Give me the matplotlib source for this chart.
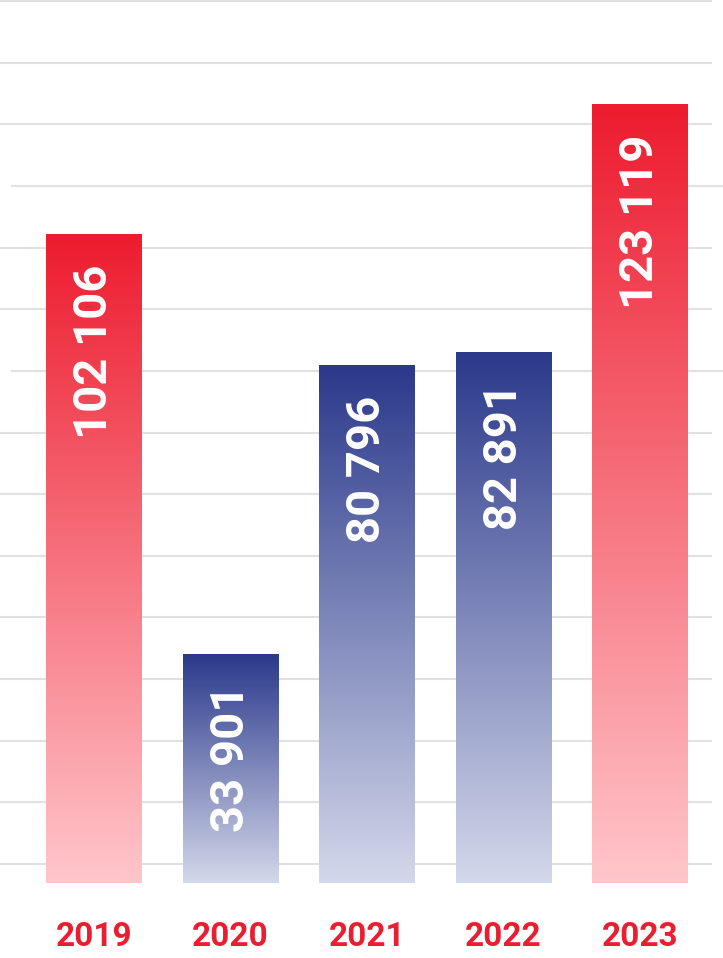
import matplotlib
matplotlib.use("Agg")
import matplotlib.pyplot as plt
import numpy as np
from matplotlib.colors import LinearSegmentedColormap
import matplotlib.transforms as mtransforms

years = ["2019", "2020", "2021", "2022", "2023"]
values = [102106, 33901, 80796, 82891, 123119]
labels = ["102 106", "33 901", "80 796", "82 891", "123 119"]
palette = ["red", "blue", "blue", "blue", "red"]

# gradient colours, top -> bottom
grads = {
    "red": ["#ED1C2F", "#FFC6CB"],
    "blue": ["#2B398B", "#D3D8EA"],
}

grid_vals = np.arange(0, 140001, 10000)
base = -3100

plt.rcParams['font.family'] = ['Roboto', 'DejaVu Sans']

fig = plt.figure(figsize=(7.23, 9.58), dpi=100)
ax = fig.add_axes([0, 0, 1, 1])
ax.axis('off')

# decorative grid, two of the lines are shifted to the right
for g in grid_vals:
    if g in (80000, 110000):
        ax.axhline(g, xmin=12 / 723, xmax=1, color="#E1E1E1", lw=1.5, zorder=0)
    else:
        ax.axhline(g, xmin=0, xmax=711 / 723, color="#E1E1E1", lw=1.5, zorder=0)

x = np.arange(len(years))
width = 0.703
bars = ax.bar(x, np.array(values) - base, bottom=base, width=width,
              color="none", edgecolor="none", zorder=2)

grad = np.linspace(1, 0, 256).reshape(-1, 1)
for b, p in zip(bars, palette):
    cmap = LinearSegmentedColormap.from_list(p, [grads[p][1], grads[p][0]])
    x0, y0 = b.get_x(), b.get_y()
    ax.imshow(grad, cmap=cmap, aspect='auto', zorder=2,
              extent=[x0, x0 + b.get_width(), y0, y0 + b.get_height()],
              origin='upper', vmin=0, vmax=1)

# value labels inside bars, rotated
off = mtransforms.offset_copy(ax.transData, fig=fig, x=0, y=-30, units='dots')
for xi, v, lab in zip(x, values, labels):
    ax.text(xi, v, lab, rotation=90, ha='center', va='top', color='white',
            fontsize=34, fontweight='bold', transform=off, zorder=3)

for xi, yr in zip(x, years):
    ax.text(xi, -11800, yr, ha='center', va='center', color="#E91E30",
            fontsize=24, fontweight='bold')

ax.set_xlim(-0.689, 4.608)
ax.set_ylim(-15250, 140170)

plt.savefig('out.png', dpi=100)
